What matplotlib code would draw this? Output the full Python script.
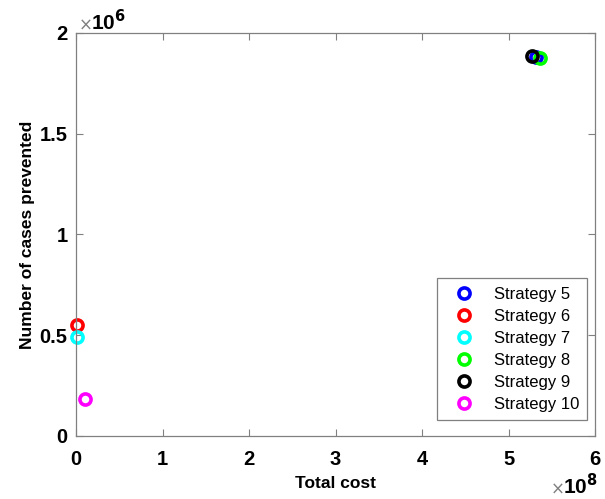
import numpy as np
import matplotlib
matplotlib.use('Agg')
import matplotlib.pyplot as plt
from matplotlib.ticker import FuncFormatter

plt.rcParams['font.family'] = ['Liberation Sans', 'DejaVu Sans']

strategies = ['Strategy 5', 'Strategy 6', 'Strategy 7', 'Strategy 8', 'Strategy 9', 'Strategy 10']
total_cost = [5.32e8, 0.01e8, 0.01e8, 5.36e8, 5.27e8, 0.10e8]
cases_prevented = [1.880e6, 0.551e6, 0.490e6, 1.874e6, 1.886e6, 0.184e6]
colors = ['#0000ff', '#ff0000', '#00ffff', '#00ff00', '#000000', '#ff00ff']

fig = plt.figure(figsize=(6.05, 4.99), dpi=100)
ax = fig.add_axes([0.1256, 0.1263, 0.858, 0.8077])

for name, x, y, c in zip(strategies, total_cost, cases_prevented, colors):
    ax.plot(x, y, 'o', mfc='none', mec=c, mew=2.6, ms=8, label=name, clip_on=False)

ax.set_xlim(0, 6e8)
ax.set_ylim(0, 2e6)
ax.set_xticks(np.arange(0, 7) * 1e8)
ax.set_yticks(np.arange(0, 2.5, 0.5) * 1e6)
ax.xaxis.set_major_formatter(FuncFormatter(lambda v, p: '%g' % (v / 1e8)))
ax.yaxis.set_major_formatter(FuncFormatter(lambda v, p: '%g' % (v / 1e6)))

ax.tick_params(direction='in', top=True, right=True, length=5, width=0.8,
               color='#808080', labelsize=14.5)
ax.tick_params(axis='x', pad=10)
ax.tick_params(axis='y', pad=6)
for lab in ax.get_xticklabels() + ax.get_yticklabels():
    lab.set_fontweight('bold')
for sp in ax.spines.values():
    sp.set_color('#808080')
    sp.set_linewidth(0.9)

ax.set_xlabel('Total cost', fontsize=12.5, fontweight='bold', labelpad=5)
ax.set_ylabel('Number of cases prevented', fontsize=12.5, fontweight='bold', labelpad=3)

# exponent labels
ax.text(0.003, 1.008, r'$\times$', transform=ax.transAxes, color='#808080',
        fontsize=12, va='baseline', ha='left')
ax.text(0.028, 1.008, r'10$^{\mathbf{6}}$', transform=ax.transAxes,
        fontsize=15, fontweight='bold', va='baseline', ha='left')
ax.text(0.913, -0.144, r'$\times$', transform=ax.transAxes, color='#808080',
        fontsize=12, va='baseline', ha='left')
ax.text(0.938, -0.144, r'10$^{\mathbf{8}}$', transform=ax.transAxes,
        fontsize=15, fontweight='bold', va='baseline', ha='left')

leg = ax.legend(loc='lower right', bbox_to_anchor=(0.985, 0.04), borderaxespad=0,
                fontsize=12, frameon=True, fancybox=False, edgecolor='#606060',
                handletextpad=0.6, borderpad=0.5, labelspacing=0.42,
                handlelength=2.3)
leg.get_frame().set_linewidth(0.9)

fig.savefig('out.png', dpi=100)
